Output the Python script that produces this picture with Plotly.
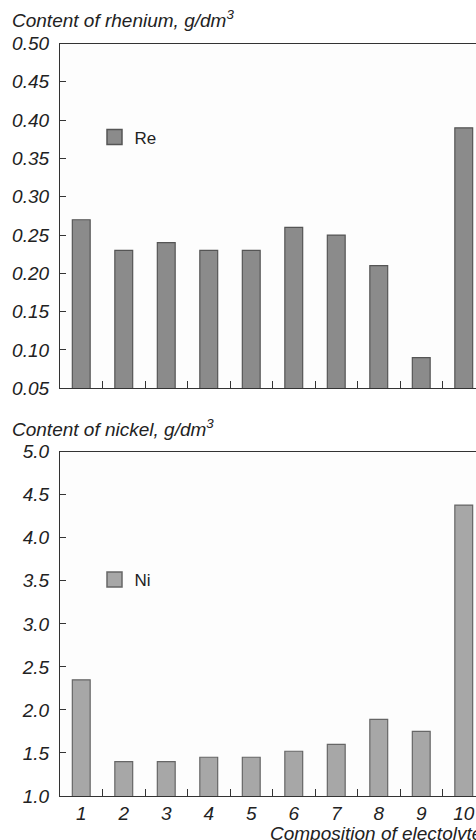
import plotly.graph_objects as go

# Electrolyte compositions and measured contents
compositions = [1, 2, 3, 4, 5, 6, 7, 8, 9, 10]
rhenium = [0.27, 0.23, 0.24, 0.23, 0.23, 0.26, 0.25, 0.21, 0.09, 0.39]
nickel = [2.35, 1.40, 1.40, 1.45, 1.45, 1.52, 1.60, 1.89, 1.75, 4.38]
x_tick_labels = ["1", "2", "3", "4", "5", "6", "7", "8", "9", "10"]

W, H = 476, 840
ML = 60
FONT = "Liberation Sans, Arial, sans-serif"
INK = "#222222"
AXIS = "#333333"
RE_FILL, RE_EDGE = "#8b8b8b", "#555555"
NI_FILL, NI_EDGE = "#a7a7a7", "#666666"
FS = 19

fig = go.Figure()

fig.add_trace(go.Bar(
    x=compositions, y=rhenium, name="Re", width=0.42, showlegend=False,
    marker=dict(color=RE_FILL, line=dict(color=RE_EDGE, width=1.2)),
    xaxis="x", yaxis="y",
))
fig.add_trace(go.Bar(
    x=compositions, y=nickel, name="Ni", width=0.42, showlegend=False,
    marker=dict(color=NI_FILL, line=dict(color=NI_EDGE, width=1.2)),
    xaxis="x2", yaxis="y2",
))
# legend keys drawn as larger square swatches
fig.add_trace(go.Scatter(
    x=[None], y=[None], name="Re", mode="markers", legend="legend",
    marker=dict(symbol="square", size=15, color=RE_FILL,
                line=dict(color=RE_EDGE, width=1.5)),
    xaxis="x", yaxis="y",
))
fig.add_trace(go.Scatter(
    x=[None], y=[None], name="Ni", mode="markers", legend="legend2",
    marker=dict(symbol="square", size=15, color=NI_FILL,
                line=dict(color=NI_EDGE, width=1.5)),
    xaxis="x2", yaxis="y2",
))


def py(p):
    return 1 - p / H


def px(p):
    return (p - ML) / (W - ML)


top_dom = [py(388.3), py(43.5)]
bot_dom = [py(796), py(451.7)]
x_range = [0.5, 0.5 + (W - ML) / 42.5]
minor_vals = [c + 0.5 for c in compositions[:-1]]

common_x = dict(
    range=x_range, showline=True, linecolor=AXIS, linewidth=1.3, mirror=True,
    showgrid=False, zeroline=False, ticks="", fixedrange=True, automargin=False,
    minor=dict(tickvals=minor_vals, ticks="inside", ticklen=7,
               tickcolor=AXIS, tickwidth=1.2, showgrid=False),
)
common_y = dict(
    showline=True, linecolor=AXIS, linewidth=1.3, showgrid=False,
    zeroline=False, ticks="inside", ticklen=6, tickcolor=AXIS, tickwidth=1.2,
    tickfont=dict(family=FONT, size=FS, color=INK, style="italic"),
    ticklabelstandoff=6, automargin=False, fixedrange=True,
)
legend_common = dict(xanchor="left", yanchor="middle", bgcolor="rgba(0,0,0,0)",
                     itemsizing="trace",
                     font=dict(family=FONT, size=17, color=INK))

fig.update_layout(
    width=W, height=H,
    margin=dict(l=ML, r=0, t=0, b=0, autoexpand=False),
    paper_bgcolor="white", plot_bgcolor="#fdfdfd",
    showlegend=True,
    xaxis=dict(domain=[0, 1], anchor="y", showticklabels=False, **common_x),
    yaxis=dict(domain=top_dom, anchor="x", range=[0.05, 0.50], dtick=0.05,
               tick0=0.05, tickformat=".2f", **common_y),
    xaxis2=dict(domain=[0, 1], anchor="y2", tickvals=compositions,
                ticktext=x_tick_labels, showticklabels=True,
                tickfont=dict(family=FONT, size=FS, color=INK, style="italic"),
                **common_x),
    yaxis2=dict(domain=bot_dom, anchor="x2", range=[1.0, 5.0], dtick=0.5,
                tick0=1.0, tickformat=".1f", **common_y),
    legend=dict(x=px(94.5), y=py(137.5), **legend_common),
    legend2=dict(x=px(94.5), y=py(580), **legend_common),
)

title_font = dict(family=FONT, size=FS, color=INK, style="italic")
fig.add_annotation(
    text="Content of rhenium, g/dm<sup>3</sup>", xref="paper", yref="paper",
    x=px(10), y=py(19), xanchor="left", yanchor="middle",
    showarrow=False, font=title_font,
)
fig.add_annotation(
    text="Content of nickel, g/dm<sup>3</sup>", xref="paper", yref="paper",
    x=px(10), y=py(428), xanchor="left", yanchor="middle",
    showarrow=False, font=title_font,
)
fig.add_annotation(
    text="Composition of electolyte", xref="paper", yref="paper",
    x=px(268), y=py(833), xanchor="left", yanchor="middle",
    showarrow=False, font=title_font,
)

fig.write_html("out.html")
